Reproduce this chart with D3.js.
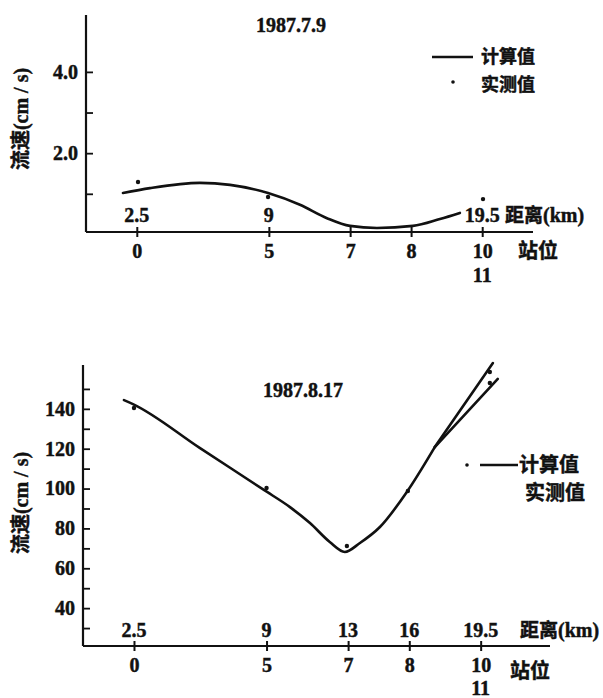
<!DOCTYPE html>
<html><head><meta charset="utf-8">
<script src="https://cdn.jsdelivr.net/npm/d3@7/dist/d3.min.js"></script>
<style>
body{margin:0;background:#fff;}
text{font-family:"Liberation Serif","Noto Sans CJK SC",serif;font-weight:bold;fill:#111;stroke:#111;stroke-width:0.45px;}
.cjk{font-family:"Noto Sans CJK SC",sans-serif;font-weight:bold;}
</style></head><body>
<svg id="c" width="603" height="698"></svg>
<script>
// ---- data ----
const stations = ["0","5","7","8","10"];
const stationDist = [2.5, 9, 13, 16, 19.5];
const distLabels = ["2.5","9","13","16","19.5"];

// Chart 1: 1987.7.9
const calc1Dist = [1.82, 3.15, 5.61, 7.09, 8.96, 10.53, 11.86, 12.99, 14.32, 16.09, 17.42, 18.4];
const calc1Val  = [1.02, 1.14, 1.27, 1.22, 1.02, 0.73, 0.40, 0.21, 0.16, 0.21, 0.38, 0.53];
const meas1Dist = [2.56, 8.96, 19.54];
const meas1Val  = [1.29, 0.92, 0.87];
const y1Ticks = [1, 2, 3, 4];
const y1Labels = {2:"2.0", 4:"4.0"};
const dist1Shown = ["2.5","9","19.5"];

// Chart 2: 1987.8.17
const calc2Dist = [2.01, 2.45, 5.74, 8.87, 10.15, 11.13, 12.1, 12.84, 13.58, 14.56, 15.88, 17.25];
const calc2Val  = [144.4, 142.4, 120.3, 99.3, 90.7, 82.7, 73.2, 68.2, 72.7, 80.7, 98.3, 120.8];
const branchUpperDist = [17.25, 20.1];
const branchUpperVal  = [120.8, 163];
const branchLowerDist = [17.25, 20.34];
const branchLowerVal  = [120.8, 155];
const meas2Dist = [2.5, 9.0, 12.94, 15.93, 19.95, 19.95];
const meas2Val  = [140.4, 100.3, 71.2, 98.8, 158.5, 153];
const y2Ticks = [30, 40, 50, 60, 70, 80, 90, 100, 110, 120, 130, 140, 150];
const y2Labels = [40, 60, 80, 100, 120, 140];

const svg = d3.select("#c");
const NUM = "20px";

function panel(cfg){
  const g = svg.append("g");
  const x = d3.scaleLinear().domain(cfg.xDomain).range(cfg.xRange);
  const y = d3.scaleLinear().domain(cfg.yDomain).range(cfg.yRange);
  const axisY = cfg.yRange[0];
  // y axis
  const ya = d3.axisLeft(y).tickValues(cfg.yTicks).tickSizeInner(-7).tickSizeOuter(0).tickPadding(8)
     .tickFormat(cfg.yFmt);
  const yg = g.append("g").attr("transform",`translate(${cfg.xRange[0]},0)`).call(ya);
  yg.select(".domain").attr("stroke","#111").attr("stroke-width",2.2).attr("d",`M0,${cfg.yRange[0]}V${cfg.yRange[1]}`);
  yg.selectAll(".tick line").attr("stroke","#111").attr("stroke-width",1.8);
  yg.selectAll(".tick text").style("font-size",NUM).style("font-family","Liberation Serif").style("font-weight","bold").attr("fill","#111");
  // x axis
  const xa = d3.axisBottom(x).tickValues(stationDist).tickFormat((d,i)=>stations[i]).tickSize(5).tickSizeOuter(0).tickPadding(7);
  const xg = g.append("g").attr("transform",`translate(0,${axisY})`).call(xa);
  xg.select(".domain").attr("stroke","#111").attr("stroke-width",2.2).attr("d",`M${cfg.xRange[0]},0H${cfg.xRange[1]}`);
  xg.selectAll(".tick line").attr("stroke","#111").attr("stroke-width",2).attr("y1",-5);
  xg.selectAll(".tick text").style("font-size",NUM).style("font-family","Liberation Serif").style("font-weight","bold").attr("fill","#111");
  // "11" under "10"
  g.append("text").attr("x",x(19.5)).attr("y",axisY+cfg.elevenDy).attr("text-anchor","middle")
    .style("font-size",NUM).text("11");
  // distance labels above the axis
  stationDist.forEach((d,i)=>{
    if(cfg.distShown.indexOf(distLabels[i])<0) return;
    g.append("text").attr("x",x(d)).attr("y",axisY-cfg.distUp).attr("text-anchor","middle")
      .style("font-size",NUM).text(distLabels[i]);
  });
  g.append("text").attr("x",cfg.kmX).attr("y",axisY-cfg.distUp).style("font-size",NUM)
    .html('<tspan class="cjk" style="font-size:19px">距离</tspan>(km)');
  g.append("text").attr("class","cjk").attr("x",cfg.zwX).attr("y",axisY+cfg.zwDy).style("font-size","20px").text("站位");
  // y label
  g.append("text").attr("transform",`translate(${cfg.ylabX},${cfg.ylabY}) rotate(-90)`).attr("text-anchor","middle")
    .style("font-size","20px").html('<tspan class="cjk">流速</tspan>(cm / s)');
  // title
  g.append("text").attr("x",cfg.titleX).attr("y",cfg.titleY).attr("text-anchor","middle").style("font-size","20px").text(cfg.title);
  // lines
  const line = d3.line().x(d=>x(d[0])).y(d=>y(d[1])).curve(d3.curveMonotoneX);
  cfg.lines.forEach(L=>{
    g.append("path").datum(L[0].map((d,i)=>[d,L[1][i]])).attr("d",line)
      .attr("fill","none").attr("stroke","#111").attr("stroke-width",2.6).attr("stroke-linecap","round");
  });
  // measured points
  g.selectAll(".pt").data(cfg.measDist.map((d,i)=>[d,cfg.measVal[i]])).enter().append("circle")
    .attr("cx",d=>x(d[0])).attr("cy",d=>y(d[1])).attr("r",2.2).attr("fill","#111");
  // legend
  const lg = cfg.legend;
  g.append("line").attr("x1",lg.lx1).attr("x2",lg.lx2).attr("y1",lg.ly).attr("y2",lg.ly).attr("stroke","#111").attr("stroke-width",2.6);
  g.append("circle").attr("cx",lg.dx).attr("cy",lg.dy).attr("r",1.8).attr("fill","#111");
  g.append("text").attr("class","cjk").attr("x",lg.tx).attr("y",lg.ly).attr("dy","0.36em").style("font-size",lg.fs).text("计算值");
  g.append("text").attr("class","cjk").attr("x",lg.tx2).attr("y",lg.t2y).attr("dy","0.36em").style("font-size",lg.fs).text("实测值");
}

panel({
  xDomain:[0,22], xRange:[86,533], yDomain:[0.06,5.4], yRange:[232,15],
  yTicks:y1Ticks, yFmt:d=>y1Labels[d]||"", distShown:dist1Shown,
  distUp:10, kmX:505, zwX:518, zwDy:26, elevenDy:50,
  ylabX:28, ylabY:119, title:"1987.7.9", titleX:291, titleY:32,
  lines:[[calc1Dist,calc1Val]], measDist:meas1Dist, measVal:meas1Val,
  legend:{lx1:432,lx2:473,ly:57,dx:453,dy:82,tx:481,tx2:481,t2y:85,fs:"18px"}
});
panel({
  xDomain:[0,22.9], xRange:[83,550], yDomain:[21,162], yRange:[646,365],
  yTicks:y2Ticks, yFmt:d=>y2Labels.indexOf(d)>=0?String(d):"", distShown:distLabels,
  distUp:9, kmX:520, zwX:510, zwDy:32, elevenDy:49,
  ylabX:28, ylabY:503, title:"1987.8.17", titleX:303, titleY:397,
  lines:[[calc2Dist,calc2Val],[branchUpperDist,branchUpperVal],[branchLowerDist,branchLowerVal]],
  measDist:meas2Dist, measVal:meas2Val,
  legend:{lx1:480,lx2:518,ly:465,dx:467,dy:465,tx:519,tx2:525,t2y:493,fs:"20px"}
});
</script></body></html>
